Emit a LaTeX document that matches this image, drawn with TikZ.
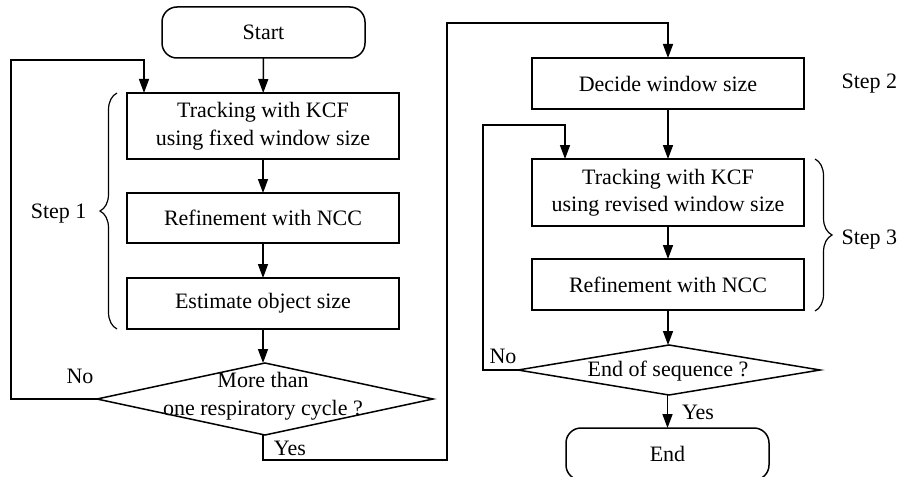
\documentclass[tikz,border=0pt]{standalone}
\usepackage{fontspec}
\setmainfont{Liberation Serif}
\usetikzlibrary{arrows.meta,shapes.geometric,decorations.pathreplacing}
\begin{document}
\begin{tikzpicture}[x=1pt,y=-1pt,
  every node/.style={font=\fontsize{22}{27.5}\selectfont},
  line/.style={line width=1.5pt},
  arr/.style={line, -{Triangle[length=14pt,width=10pt]}},
  procbox/.style={draw, line width=1.5pt, minimum width=272pt, inner sep=0pt, outer sep=0pt, align=center},
  termbox/.style={draw, line width=1.5pt, rounded corners=15pt, minimum width=203pt, inner sep=0pt, outer sep=0pt},
  decision/.style={draw, line width=1.5pt, diamond, inner sep=0pt, outer sep=0pt},
  bracepath/.style={line width=1.2pt, decorate, decoration={brace, amplitude=17pt}}
]
\useasboundingbox (0,0) rectangle (901,476);

% left column
\node[termbox, minimum height=51pt] (start) at (263.5,32.5) {Start};
\node[procbox, minimum height=66pt] (b1) at (263,126) {Tracking with KCF\\using fixed window size};
\node[procbox, minimum height=50pt] (b2) at (263,218) {Refinement with NCC};
\node[procbox, minimum height=51pt] (b3) at (263,303.5) {Estimate object size};
\node[decision, minimum width=336pt, minimum height=72pt] (d1) at (265,399) {};
\node[align=center] (d1t) at (263,396) {More than\\one respiratory cycle ?};

% right column
\node[procbox, minimum height=51pt] (dec) at (668,83.5) {Decide window size};
\node[procbox, minimum height=67pt] (b4) at (668,192.5) {Tracking with KCF\\using revised window size};
\node[procbox, minimum height=51pt] (b5) at (668,284.5) {Refinement with NCC};
\node[decision, minimum width=302pt, minimum height=50pt] (d2) at (669,370) {};
\node (d2t) at (668,371) {End of sequence ?};
\node[termbox, minimum height=52pt] (end) at (667.5,454) {End};

% main flow
\draw[arr] (start) -- (b1);
\draw[arr] (b1) -- (b2);
\draw[arr] (b2) -- (b3);
\draw[arr] (b3.south) -- (b3.south |- d1.north);
\draw[arr] (dec) -- (b4);
\draw[arr] (b4) -- (b5);
\draw[arr] (b5.south) -- (b5.south |- d2.north);
\draw[arr] (d2.south -| end.north) -- (end.north);

% loop back from the first decision
\coordinate (k1) at (11,60);
\coordinate (k2) at (144,60);
\draw[arr] (d1.west) -| (k1) -- (k2) -- (k2 |- b1.north);

% continue to the second stage
\coordinate (k3) at (447,460);
\coordinate (k4) at (447,23);
\draw[arr] (d1.south -| b3.south) |- (k3) -- (k4) -| (dec.north);

% loop back from the second decision
\coordinate (k5) at (483,125);
\coordinate (k6) at (565,125);
\draw[arr] (d2.west) -| (k5) -- (k6) -- (k6 |- b4.north);

% branch labels
\node (no1) at (80,376) {No};
\node (yes1) at (290,448) {Yes};
\node (no2) at (503,356) {No};
\node (yes2) at (698,412) {Yes};

% step braces
\draw[bracepath] (117,329) -- (117,93) coordinate[pos=0.5] (br1);
\node[anchor=east] (s1) at (90,214) {Step 1};
\draw[bracepath] (815,159) -- (815,311) coordinate[pos=0.5] (br3);
\node[anchor=west] (s3) at (838,240) {Step 3};
\node[anchor=west] (s2) at (838,84) {Step 2};
\end{tikzpicture}
\end{document}
